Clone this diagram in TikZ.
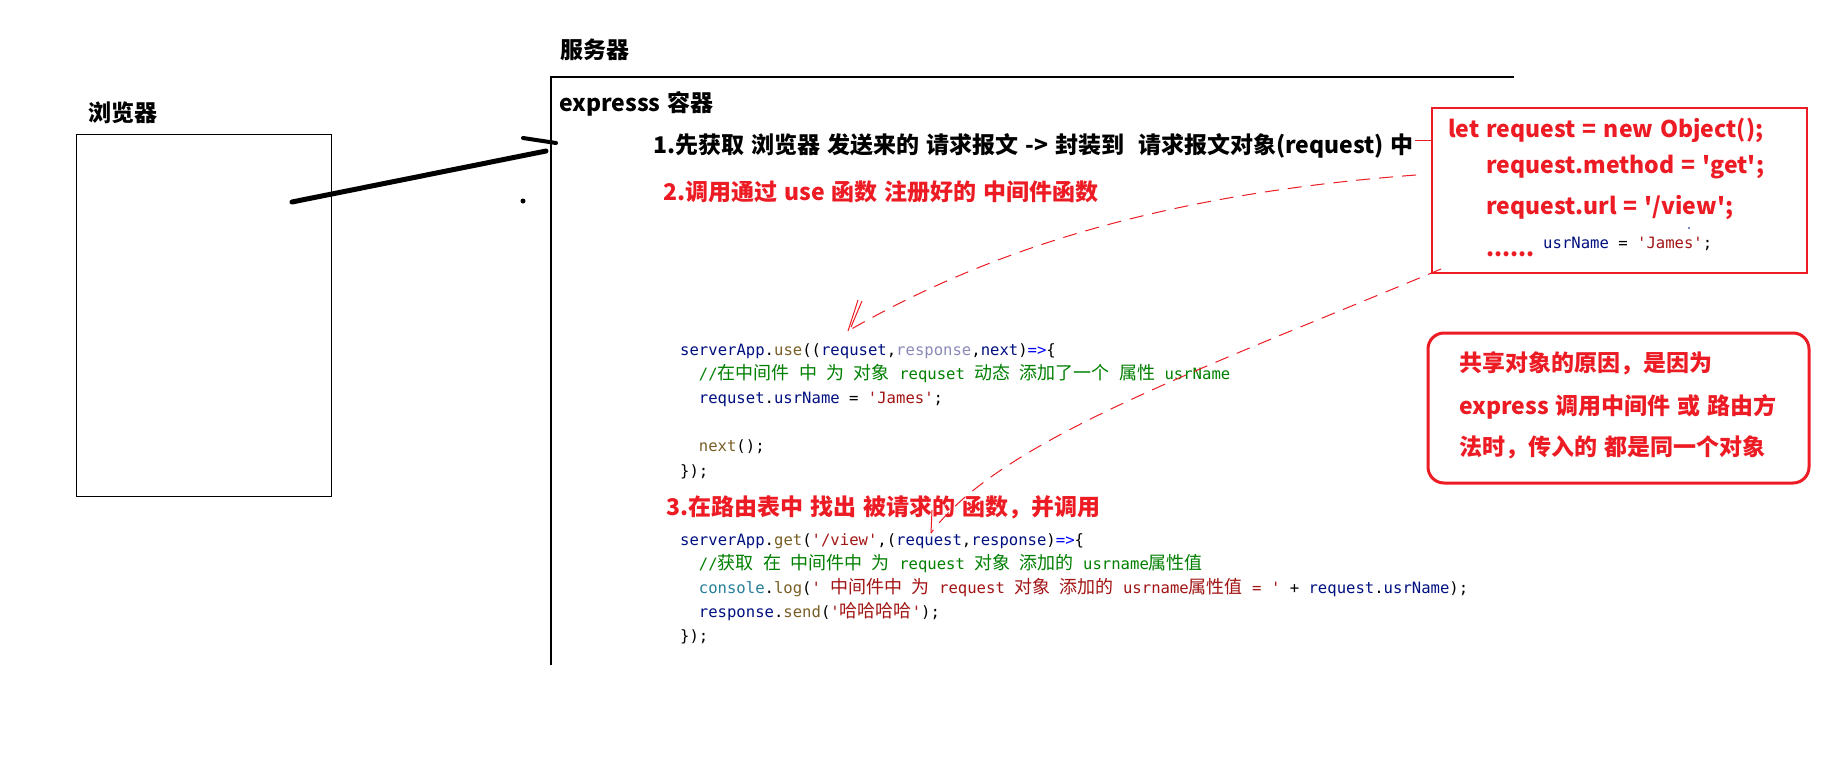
\documentclass[tikz,border=0pt]{standalone}
\usepackage{fontspec}
\setmainfont{Noto Sans CJK SC}[Ligatures=TeXOff]
\newfontfamily\cjkfont{Noto Sans CJK SC}
\setmonofont{DejaVu Sans Mono}
\definecolor{pred}{RGB}{237,28,36}
\definecolor{cvar}{HTML}{001080}
\definecolor{cfun}{HTML}{795E26}
\definecolor{cstr}{HTML}{A31515}
\definecolor{ccom}{HTML}{008000}
\definecolor{ckw}{HTML}{0000FF}
\definecolor{ctype}{HTML}{267F99}
\definecolor{cunused}{HTML}{8A8AB8}
\newcommand\zc[1]{{\fontsize{18}{18}\selectfont\cjkfont #1}}
\newcommand\cv[1]{\textcolor{cvar}{#1}}
\newcommand\cf[1]{\textcolor{cfun}{#1}}
\newcommand\cs[1]{\textcolor{cstr}{#1}}
\newcommand\cc[1]{\textcolor{ccom}{#1}}
\newcommand\ck[1]{\textcolor{ckw}{#1}}
\newcommand\ct[1]{\textcolor{ctype}{#1}}
\newcommand\widespaces{\spaceskip=7pt plus 1pt minus 1pt\relax}
\newcommand\lblfont{\fontsize{23}{23}\selectfont\bfseries\widespaces}
\tikzset{
  lbl/.style={anchor=base west, inner sep=0pt, font=\lblfont},
  lblr/.style={lbl, text=pred},
  code/.style={anchor=base west, inner sep=0pt, font=\ttfamily\fontsize{15.6}{15.6}\selectfont},
  thinbox/.style={draw=black, line width=1pt, inner sep=0pt},
  redbox/.style={draw=pred, line width=1.5pt, inner sep=0pt},
  notebox/.style={draw=pred, line width=3pt, rounded corners=16pt, inner sep=0pt},
  reddash/.style={draw=pred, line width=1pt, dash pattern=on 14pt off 9pt},
  redtip/.style={draw=pred, line width=1pt},
  heavy/.style={draw=black, line width=5pt, line cap=round},
}
\begin{document}
\begin{tikzpicture}[x=1pt,y=-1pt]
\useasboundingbox[fill=white] (0,0) rectangle (1842,782);

% browser
\node[lbl] (browserlbl) at (88,121) {浏览器};
\node[thinbox, minimum width=255pt, minimum height=362pt] (browser) at (203.5,315) {};

% server
\node[lbl] (serverlbl) at (560,58) {服务器};
\coordinate (srvBL) at (551,665);
\coordinate (srvTL) at (551,77);
\coordinate (srvTR) at (1514,77);
\draw[line width=1.5pt] (srvBL) -- (srvTL) -- (srvTR);
\node[lbl] (express) at (559,111) {expresss 容器};

% thick strokes
\coordinate (lnA) at (292,202);
\coordinate (lnB) at (546,151);
\draw[heavy] (lnA) -- (lnB);
\coordinate (lnC) at (523,138);
\coordinate (lnD) at (556,143);
\draw[heavy, line width=4pt] (lnC) -- (lnD);
\coordinate (dotA) at (523,201);
\fill (dotA) circle (2.5pt);

% step texts
\node[lbl] (step1) at (653,153) {1.先获取 浏览器 发送来的 请求报文 -> 封装到 \hspace{7pt}请求报文对象(request) 中};
\node[lblr] (step2) at (663,200) {2.调用通过 use 函数 注册好的 中间件函数};
\node[lblr] (step3) at (666,515) {3.在路由表中 找出 被请求的 函数，并调用};

% request object box
\node[redbox, minimum width=375pt, minimum height=165pt] (obj) at (1619.5,190.5) {};
\coordinate (linkA) at (1415,140);
\draw[pred, line width=1pt] (linkA) -- (linkA -| obj.west);
\node[lblr] (obj1) at (1448,137) {let request = new Object();};
\node[lblr] (obj2) at (1486,173) {request.method = 'get';};
\node[lblr] (obj3) at (1486,214) {request.url = '/view';};
\node[lblr] (obj4) at (1486,256) {......};
\node[code] (obj5) at (1543,248) {\cv{usrName} = \cs{'James'};};
\fill[cvar] (1689,228) circle (0.8pt);

% note box
\node[notebox, minimum width=381pt, minimum height=150pt] (note) at (1618.5,408) {};
\node[lblr] (note1) at (1459,371) {共享对象的原因，是因为};
\node[lblr] (note2) at (1459,414) {express 调用中间件 或 路由方};
\node[lblr] (note3) at (1459,455) {法时，传入的 都是同一个对象};

% code block 1
\node[code] (c1a) at (680,355) {\cv{serverApp}.\cf{use}((\cv{requset},\textcolor{cunused}{response},\cv{next})\ck{=>}\{};
\node[code] (c1b) at (698.7,379.2) {\cc{//\zc{在中间件} \zc{中} \zc{为} \zc{对象} requset \zc{动态} \zc{添加了一个} \zc{属性} usrName}};
\node[code] (c1c) at (698.7,403.4) {\cv{requset}.\cv{usrName} = \cs{'James'};};
\node[code] (c1d) at (698.7,451.8) {\cf{next}();};
\node[code] (c1e) at (680,476) {\});};

% code block 2
\node[code] (c2a) at (680,545) {\cv{serverApp}.\cf{get}(\cs{'/view'},(\cv{request},\cv{response})\ck{=>}\{};
\node[code] (c2b) at (698.7,569) {\cc{//\zc{获取} \zc{在} \zc{中间件中} \zc{为} request \zc{对象} \zc{添加的} usrname\zc{属性值}}};
\node[code] (c2c) at (698.7,593) {\ct{console}.\cf{log}(\cs{' \zc{中间件中} \zc{为} request \zc{对象} \zc{添加的} usrname\zc{属性值} = '} + \cv{request}.\cv{usrName});};
\node[code] (c2d) at (698.7,617) {\cv{response}.\cf{send}(\cs{'\zc{哈哈哈哈}'});};
\node[code] (c2e) at (680,641) {\});};

% dashed curve 1 (to middleware)
\coordinate (k1s) at (1416,175);
\coordinate (k1t) at (848,331);
\coordinate (k1h) at (858,300);
\coordinate (k1i) at (851,327);
\coordinate (k1j) at (862,301);
\draw[reddash] (k1s) .. controls (1150,195) and (980,255) .. (k1t);
\draw[redtip] (k1t) -- (k1h);
\draw[redtip] (k1i) -- (k1j);

% dashed curve 2 (to route handler)
\coordinate (k2s) at (1441,269);
\coordinate (k2t) at (931,533);
\coordinate (k2h) at (932,510);
\draw[reddash] (k2s) .. controls (1200,370) and (1000,440) .. (k2t);
\draw[redtip] (k2t) -- (k2h);
\end{tikzpicture}
\end{document}
